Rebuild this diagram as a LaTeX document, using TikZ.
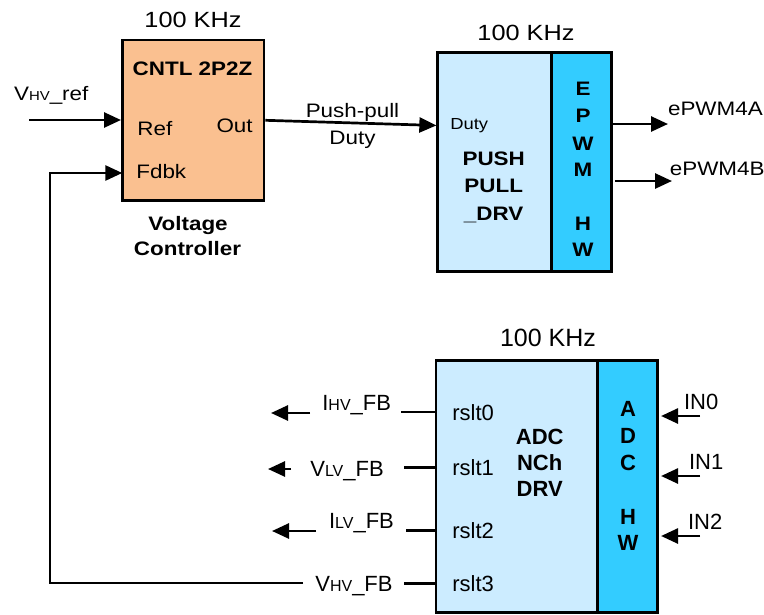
\documentclass[tikz,border=0pt]{standalone}
\usepackage{fontspec}
\setmainfont{Liberation Sans}
\newfontfamily\widesans{Liberation Sans}[FakeStretch=1.15]
\usetikzlibrary{arrows.meta}

\definecolor{ctrlfill}{HTML}{FAC090}
\definecolor{drvfill}{HTML}{CCECFF}
\definecolor{hwfill}{HTML}{33CCFF}

% smaller capitals used inside signal names
\newcommand{\sigsub}[2]{{\fontsize{#1}{#1}\selectfont #2}}

\begin{document}
\begin{tikzpicture}[x=1pt, y=-1pt, line width=2.7pt,
	blk/.style={draw, line width=2.7pt, inner sep=0pt},
	arr/.style={-{Triangle[length=17pt,width=15pt]}},
	txt/.style={inner sep=0pt, anchor=base},
	txtl/.style={inner sep=0pt, anchor=base west},
	top/.style={font=\widesans\fontsize{19.5}{23}\selectfont},
	topb/.style={font=\widesans\bfseries\fontsize{19.5}{23}\selectfont},
	bot/.style={font=\fontsize{22}{26}\selectfont},
	botb/.style={font=\bfseries\fontsize{22}{26}\selectfont}]
	\useasboundingbox (0,0) rectangle (764,614);
	
	% 1. 三个模块框
	\node[blk, fill=ctrlfill, minimum width=141.7pt, minimum height=160.7pt] (ctrl) at (193.2,120.3) {};
	\node[blk, fill=drvfill, minimum width=114pt, minimum height=219pt] (pushdrv) at (494.7,162.2) {};
	\node[blk, fill=hwfill, minimum width=60pt, minimum height=219pt] (epwmhw) at (581.7,162.2) {};
	\node[blk, fill=drvfill, minimum width=161.3pt, minimum height=251.8pt] (adcdrv) at (516.7,486.6) {};
	\node[blk, fill=hwfill, minimum width=60.4pt, minimum height=251.8pt] (adchw) at (627.5,486.6) {};
	
	% 2. 电压控制器文字
	\node[txt, top, font=\widesans\fontsize{22}{26}\selectfont] (frq1) at (193,27) {100 KHz};
	\node[txt, topb] (cntl) at (192.5,75) {CNTL 2P2Z};
	\node[txtl, top] (ref) at (136,135) {Ref};
	\node[txt, top, anchor=base east] (out) at (254,132.7) {Out};
	\node[txtl, top] (fdbk) at (135,178) {Fdbk};
	\node[txt, topb] (volt) at (188,230) {Voltage};
	\node[txt, topb] (ctrlname) at (187.5,255) {Controller};
	\node[txtl, top] (vref) at (12.7,100) {V\sigsub{13}{HV}\_ref};
	
	% 3. PWM 驱动文字
	\node[txt, top, font=\widesans\fontsize{22}{26}\selectfont] (frq2) at (526,40.7) {100 KHz};
	\node[txt, top] (pp1) at (352.5,117.3) {Push-pull};
	\node[txt, top] (pp2) at (352.5,144) {Duty};
	\node[txtl, font=\widesans\fontsize{16}{19}\selectfont] (dutyin) at (449,129.3) {Duty};
	\node[txt, topb] (push) at (493.7,165.7) {PUSH};
	\node[txt, topb] (pull) at (493.7,192.7) {PULL};
	\node[txt, topb] (pdrv) at (493.7,220) {\_DRV};
	\node[txt, topb] (e1) at (583,95.7) {E};
	\node[txt, topb] (e2) at (583,122.7) {P};
	\node[txt, topb] (e3) at (583,150) {W};
	\node[txt, topb] (e4) at (583,176.7) {M};
	\node[txt, topb] (e5) at (583,230) {H};
	\node[txt, topb] (e6) at (583,256.7) {W};
	\node[txtl, top] (pwma) at (666.7,115) {ePWM4A};
	\node[txtl, top] (pwmb) at (668.5,175) {ePWM4B};
	
	% 4. ADC 驱动文字
	\node[txt, font=\fontsize{25}{29}\selectfont] (frq3) at (548,346) {100 KHz};
	\node[txt, botb] (adc1) at (539.7,444) {ADC};
	\node[txt, botb] (adc2) at (539.7,470) {NCh};
	\node[txt, botb] (adc3) at (539.7,496) {DRV};
	\node[txt, botb] (a1) at (628,416.7) {A};
	\node[txt, botb] (a2) at (628,443.3) {D};
	\node[txt, botb] (a3) at (628,470) {C};
	\node[txt, botb] (a4) at (628,524) {H};
	\node[txt, botb] (a5) at (628,550.7) {W};
	\node[txtl, bot] (r0) at (451,420) {rslt0};
	\node[txtl, bot] (r1) at (451,475.7) {rslt1};
	\node[txtl, bot] (r2) at (451,538.3) {rslt2};
	\node[txtl, bot] (r3) at (451,591.7) {rslt3};
	\node[txtl, bot] (ihvfb) at (321,410) {I\sigsub{16}{HV}\_FB};
	\node[txtl, bot] (vlvfb) at (309,476.7) {V\sigsub{16}{LV}\_FB};
	\node[txtl, bot] (ilvfb) at (327.7,528.3) {I\sigsub{16}{LV}\_FB};
	\node[txtl, bot] (vhvfb) at (314,591.7) {V\sigsub{16}{HV}\_FB};
	\node[txtl, bot] (in0) at (682.7,409.3) {IN0};
	\node[txtl, bot] (in1) at (687.7,469.3) {IN1};
	\node[txtl, bot] (in2) at (686.7,529.3) {IN2};
	
	% 5. 连线端点
	\coordinate (vrefin) at (29,120);
	\coordinate (pwmaend) at (668,124);
	\coordinate (pwmbbeg) at (615,181);
	\coordinate (pwmbend) at (672,181);
	\coordinate (in0beg) at (700,416);
	\coordinate (in1beg) at (700,476);
	\coordinate (in2beg) at (700,536);
	\coordinate (o0beg) at (310,413);
	\coordinate (o0end) at (271,413);
	\coordinate (o1beg) at (291,469);
	\coordinate (o1end) at (268,469);
	\coordinate (o2beg) at (316,531);
	\coordinate (o2end) at (272,531);
	\coordinate (fbbeg) at (303,583);
	\coordinate (fbcorner) at (50,583);
	\coordinate (fbin) at (122.3,173);
	
	% 6. 箭头与连线
	\draw[arr] (vrefin) -- (vrefin -| ctrl.west);
	\draw[arr] (fbbeg) -- (fbcorner) |- (fbin);
	\draw[arr] (ctrl.east) -- (pushdrv.west |- dutyin);
	\draw[arr] (pwmaend -| epwmhw.east) -- (pwmaend);
	\draw[arr] (pwmbbeg) -- (pwmbend);
	\draw[arr, shorten >=2pt] (in0beg) -- (in0beg -| adchw.east);
	\draw[arr, shorten >=2pt] (in1beg) -- (in1beg -| adchw.east);
	\draw[arr, shorten >=2pt] (in2beg) -- (in2beg -| adchw.east);
	\draw (adcdrv.west |- r0) -- ++(-34,0);
	\draw (adcdrv.west |- r1) -- ++(-31,0);
	\draw (adcdrv.west |- r2) -- ++(-29,0);
	\draw (adcdrv.west |- r3) -- ++(-31,0);
	\draw[arr] (o0beg) -- (o0end);
	\draw[arr] (o1beg) -- (o1end);
	\draw[arr] (o2beg) -- (o2end);
	
\end{tikzpicture}
\end{document}
